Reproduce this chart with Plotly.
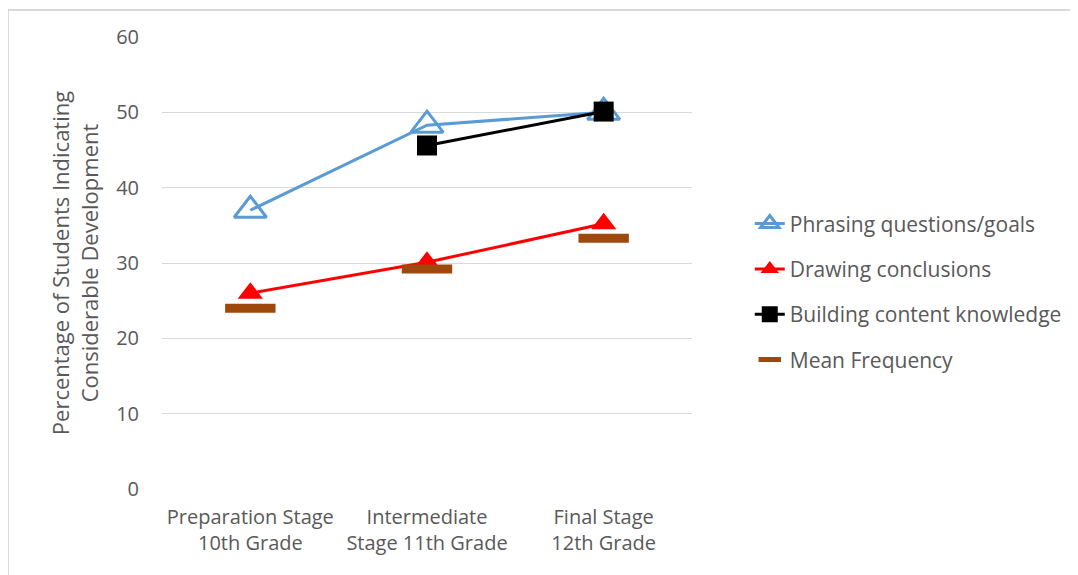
import plotly.graph_objects as go

categories = ["Preparation Stage<br>10th Grade", "Intermediate<br>Stage 11th Grade", "Final Stage<br>12th Grade"]
phrasing = [37.0, 48.3, 50.0]
drawing = [26.0, 30.1, 35.2]
building = [None, 45.6, 50.1]
mean_freq = [24.0, 29.2, 33.3]

FONT = "Open Sans"
GRAY = "#595959"

# page body has an 8px margin in the browser; figure is sized to fit the window
W, H = 1070, 567
L, T = 154, 29
PW, PH = 530, 452

fig = go.Figure()
fig.add_trace(go.Scatter(
    x=categories, y=phrasing, name="Phrasing questions/goals", mode="lines+markers",
    line=dict(color="#5B9BD5", width=3),
    marker=dict(symbol="triangle-up-open", size=28, color="#5B9BD5", line=dict(width=3, color="#5B9BD5")),
    legendgroup="a"))
fig.add_trace(go.Scatter(
    x=categories, y=drawing, name="Drawing conclusions", mode="lines+markers",
    line=dict(color="#FF0000", width=3),
    marker=dict(symbol="triangle-up", size=22, color="#FF0000"),
    legendgroup="b"))
fig.add_trace(go.Scatter(
    x=categories, y=building, name="Building content knowledge", mode="lines+markers",
    line=dict(color="#000000", width=3),
    marker=dict(symbol="square", size=20, color="#000000"),
    legendgroup="c"))
fig.add_trace(go.Scatter(
    x=categories, y=mean_freq, name="Mean Frequency", mode="markers",
    marker=dict(symbol="line-ew-open", size=36, color="#9E480E", line=dict(width=9, color="#9E480E")),
    legendgroup="d"))

fig.update_layout(
    width=W, height=H,
    margin=dict(l=L, r=W - L - PW, t=T, b=H - T - PH, autoexpand=False),
    paper_bgcolor="white", plot_bgcolor="white",
    font=dict(family=FONT, size=20, color=GRAY),
    showlegend=True,
    legend=dict(x=1.109, y=0.436, xanchor="left", yanchor="middle",
                traceorder="grouped", tracegroupgap=15,
                font=dict(family=FONT, size=21, color=GRAY),
                bgcolor="rgba(0,0,0,0)"),
    xaxis=dict(showgrid=False, showline=False, zeroline=False, ticks="",
               range=[-0.5, 2.5],
               tickfont=dict(family=FONT, size=20, color=GRAY), ticklabelstandoff=14),
    yaxis=dict(range=[0, 60], dtick=10, showgrid=True, gridcolor="#D9D9D9", gridwidth=1,
               zeroline=False, showline=False, ticks="",
               tickfont=dict(family=FONT, size=20, color=GRAY), ticklabelstandoff=22,
               title=dict(text="Percentage of Students Indicating<br>Considerable Development",
                          font=dict(family=FONT, size=22, color=GRAY), standoff=11)),
    shapes=[dict(type="rect", xref="paper", yref="paper",
                 x0=(0 - L) / PW, x1=(1090 - L) / PW,
                 y0=(T + PH - 590) / PH, y1=(T + PH - 2) / PH,
                 line=dict(color="#D9D9D9", width=2), fillcolor="rgba(0,0,0,0)", layer="below")],
)

fig.write_html("out.html")
